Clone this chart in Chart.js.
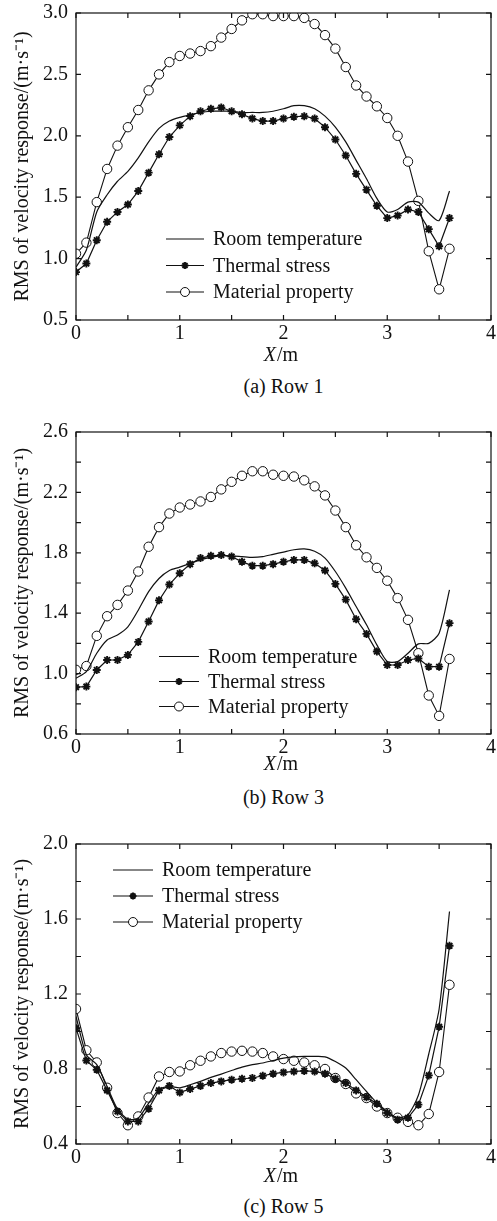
<!DOCTYPE html>
<html><head><meta charset="utf-8">
<script src="https://cdn.jsdelivr.net/npm/chart.js@4.4.1/dist/chart.umd.min.js"></script>
<style>
html,body{margin:0;padding:0;background:#fff;}
body{width:497px;height:1221px;position:relative;overflow:hidden;font-family:'Liberation Serif','Times New Roman',serif;color:#111;}
.pane{position:absolute;left:0;width:497px;}
.cap{position:absolute;left:76px;width:415px;text-align:center;font-size:20px;line-height:20px;color:#111;}
</style></head><body>
<div class="pane" style="top:0;height:372px"><canvas id="c1"></canvas></div>
<div class="cap" style="top:376px">(a) Row 1</div>
<div class="pane" style="top:400px;height:385px"><canvas id="c2"></canvas></div>
<div class="cap" style="top:787px">(b) Row 3</div>
<div class="pane" style="top:820px;height:372px"><canvas id="c3"></canvas></div>
<div class="cap" style="top:1196px">(c) Row 5</div>
<script>
// ---- data ----
const xPositions = [0.0,0.1,0.2,0.3,0.4,0.5,0.6,0.7,0.8,0.9,1.0,1.1,1.2,1.3,1.4,1.5,1.6,1.7,1.8,1.9,2.0,2.1,2.2,2.3,2.4,2.5,2.6,2.7,2.8,2.9,3.0,3.1,3.2,3.3,3.4,3.5,3.6];
const seriesNames = ['Room temperature','Thermal stress','Material property'];
const captions = ['(a) Row 1','(b) Row 3','(c) Row 5'];
const yTitle = 'RMS of velocity response/(m·s⁻¹)';
const xTitleMain = 'X';
const xTitleUnit = '/m';

const room1 = [0.93,1.07,1.38,1.52,1.63,1.71,1.82,1.95,2.06,2.12,2.15,2.17,2.19,2.20,2.20,2.20,2.19,2.19,2.19,2.20,2.22,2.245,2.245,2.22,2.16,2.07,1.95,1.80,1.65,1.49,1.38,1.40,1.46,1.46,1.37,1.31,1.55];
const thermal1 = [0.89,0.96,1.15,1.30,1.38,1.44,1.55,1.70,1.85,1.99,2.085,2.16,2.20,2.22,2.23,2.20,2.175,2.14,2.12,2.12,2.14,2.155,2.16,2.14,2.07,1.97,1.84,1.69,1.56,1.43,1.33,1.35,1.40,1.38,1.24,1.10,1.33];
const material1 = [1.04,1.13,1.46,1.73,1.92,2.07,2.21,2.37,2.50,2.60,2.65,2.67,2.69,2.73,2.80,2.87,2.94,2.99,2.99,2.975,2.975,2.975,2.96,2.91,2.82,2.71,2.56,2.41,2.32,2.24,2.145,2.00,1.79,1.47,1.06,0.75,1.08];

const room2 = [0.97,1.013,1.135,1.223,1.256,1.31,1.42,1.543,1.63,1.683,1.705,1.73,1.753,1.77,1.78,1.78,1.775,1.77,1.775,1.79,1.805,1.82,1.826,1.81,1.765,1.676,1.566,1.444,1.323,1.19,1.08,1.08,1.135,1.197,1.20,1.267,1.555];
const thermal2 = [0.91,0.914,1.024,1.09,1.09,1.124,1.21,1.345,1.485,1.59,1.665,1.725,1.765,1.78,1.785,1.775,1.74,1.715,1.715,1.725,1.74,1.753,1.753,1.73,1.683,1.594,1.49,1.36,1.263,1.146,1.057,1.057,1.09,1.10,1.046,1.046,1.334];
const material2 = [1.025,1.05,1.25,1.38,1.455,1.55,1.676,1.84,1.97,2.06,2.10,2.12,2.14,2.17,2.22,2.27,2.31,2.34,2.34,2.317,2.31,2.305,2.28,2.24,2.18,2.08,1.97,1.85,1.77,1.70,1.615,1.50,1.356,1.135,0.855,0.72,1.097];

const room3 = [1.08,0.876,0.823,0.707,0.587,0.533,0.538,0.618,0.69,0.707,0.70,0.716,0.734,0.755,0.773,0.792,0.81,0.823,0.832,0.845,0.858,0.865,0.867,0.867,0.865,0.84,0.805,0.743,0.68,0.62,0.574,0.54,0.556,0.66,0.88,1.12,1.64];
const thermal3 = [1.018,0.845,0.796,0.686,0.574,0.52,0.52,0.588,0.686,0.71,0.675,0.693,0.71,0.725,0.734,0.743,0.748,0.752,0.764,0.775,0.782,0.787,0.79,0.787,0.775,0.748,0.725,0.686,0.65,0.615,0.565,0.53,0.54,0.61,0.766,1.025,1.457];
const material3 = [1.12,0.90,0.835,0.70,0.565,0.50,0.547,0.648,0.76,0.784,0.787,0.82,0.844,0.867,0.885,0.893,0.897,0.893,0.885,0.867,0.853,0.844,0.835,0.82,0.80,0.752,0.72,0.67,0.645,0.60,0.565,0.54,0.518,0.50,0.56,0.784,1.249];

const xTickLabels = ['0','1','2','3','4'];
const yTickLabels1 = ['0.5','1.0','1.5','2.0','2.5','3.0'];
const yTickLabels2 = ['0.6','1.0','1.4','1.8','2.2','2.6'];
const yTickLabels3 = ['0.4','0.8','1.2','1.6','2.0'];

// ---- rendering ----
const FONT = "'Liberation Serif','Times New Roman',serif";
const INK = '#111';
Chart.defaults.font.family = FONT;
Chart.defaults.color = INK;

function pts(vals){ return vals.map((v,i)=>({x:xPositions[i], y:v})); }

function drawMarker(ctx, style, cx, cy, r){
  ctx.beginPath();
  if(style==='circle'){
    ctx.arc(cx,cy,r,0,Math.PI*2);
    ctx.fillStyle='#fff'; ctx.fill(); ctx.stroke();
  } else {
    const d = r*Math.SQRT1_2;
    ctx.moveTo(cx-r,cy); ctx.lineTo(cx+r,cy);
    ctx.moveTo(cx,cy-r); ctx.lineTo(cx,cy+r);
    ctx.moveTo(cx-d,cy-d); ctx.lineTo(cx+d,cy+d);
    ctx.moveTo(cx-d,cy+d); ctx.lineTo(cx+d,cy-d);
    ctx.stroke();
  }
}

const framePlugin = {
  id:'frame',
  afterDraw(chart, args, o){
    const ctx = chart.ctx, a = chart.chartArea, x = chart.scales.x, y = chart.scales.y;
    ctx.save();
    ctx.strokeStyle = INK; ctx.lineWidth = 1.2;
    ctx.strokeRect(a.left, a.top, a.right-a.left, a.bottom-a.top);
    const L = 5;
    ctx.beginPath();
    x.ticks.forEach(t=>{ const p = x.getPixelForValue(t.value);
      ctx.moveTo(p,a.bottom); ctx.lineTo(p,a.bottom-L); ctx.moveTo(p,a.top); ctx.lineTo(p,a.top+L); });
    y.ticks.forEach(t=>{ const p = y.getPixelForValue(t.value);
      ctx.moveTo(a.left,p); ctx.lineTo(a.left+L,p); ctx.moveTo(a.right,p); ctx.lineTo(a.right-L,p); });
    ctx.stroke();
    // x axis title: italic X + /m
    ctx.fillStyle = INK; ctx.textBaseline = 'middle';
    const fi = 'italic 20px ' + FONT, fn = '20px ' + FONT;
    ctx.font = fi; const w1 = ctx.measureText(xTitleMain).width;
    ctx.font = fn; const w2 = ctx.measureText(xTitleUnit).width;
    const cx = (a.left + a.right)/2 - 3, ty = a.bottom + o.xTitleOffset;
    const sx = cx - (w1+w2)/2;
    ctx.font = fi; ctx.textAlign = 'left'; ctx.fillText(xTitleMain, sx, ty);
    ctx.font = fn; ctx.fillText(xTitleUnit, sx + w1 + 1, ty);
    // legend
    const lg = o.legend;
    chart.data.datasets.forEach((ds,i)=>{
      const ly = a.top + lg.dy + i*lg.gap, lx = a.left + lg.dx;
      ctx.strokeStyle = INK; ctx.lineWidth = 1.2;
      ctx.beginPath(); ctx.moveTo(lx,ly); ctx.lineTo(lx+lg.len,ly); ctx.stroke();
      if(ds.pointRadius>0){ ctx.lineWidth = ds.pointBorderWidth; drawMarker(ctx, ds.pointStyle, lx+lg.len/2, ly, ds.pointStyle==='circle'?4.5:3.5); }
      ctx.fillStyle = INK; ctx.font = fn; ctx.textAlign='left'; ctx.textBaseline='middle';
      ctx.fillText(ds.label, lx+lg.len+9, ly+1);
    });
    ctx.restore();
  }
};

function makeChart(id, cfg){
  return new Chart(document.getElementById(id), {
    type:'line',
    data:{datasets:[
      {label:seriesNames[0], data:pts(cfg.room), borderColor:INK, borderWidth:1.2, pointRadius:0, tension:0.25},
      {label:seriesNames[1], data:pts(cfg.thermal), borderColor:INK, borderWidth:1.2, pointStyle:'star', pointRadius:4, pointBorderWidth:1.9, pointBorderColor:INK, pointBackgroundColor:INK, tension:0},
      {label:seriesNames[2], data:pts(cfg.material), borderColor:INK, borderWidth:1.1, pointStyle:'circle', pointRadius:4.7, pointBorderWidth:1, pointBorderColor:INK, pointBackgroundColor:'#fff', tension:0}
    ]},
    options:{
      responsive:true, maintainAspectRatio:false, animation:false, devicePixelRatio:1,
      layout:{padding:{top:cfg.padTop, right:6, left:0, bottom:0}},
      plugins:{legend:{display:false}, tooltip:{enabled:false},
        frame:{xTitleOffset:cfg.xTitleOffset, legend:cfg.legend}},
      scales:{
        x:{type:'linear', min:0, max:4,
          afterFit:s=>{ s.height = cfg.xAxisH; s.paddingLeft = 0; s.paddingRight = 0; },
          grid:{display:false, drawTicks:false}, border:{display:false},
          ticks:{stepSize:0.5, autoSkip:false, maxRotation:0, padding:2, color:INK, font:{size:20, family:FONT},
            callback:v=>{ const k = Math.round(v*2); return k%2===0 ? xTickLabels[k/2] : ''; }}},
        y:{type:'linear', min:cfg.ymin, max:cfg.ymax,
          afterFit:s=>{ s.width = 76; s.paddingTop = 0; s.paddingBottom = 0; },
          grid:{display:false, drawTicks:false}, border:{display:false},
          ticks:{stepSize:cfg.ystep, autoSkip:false, padding:8, color:INK, font:{size:20, family:FONT},
            callback:v=>{ const lbl = v.toFixed(1); return cfg.yLabels.includes(lbl) ? lbl : ''; }},
          title:{display:true, text:yTitle, color:INK, font:{size:20, family:FONT}, padding:{top:11, bottom:0}}}
      }
    },
    plugins:[framePlugin]
  });
}

makeChart('c1', {room:room1, thermal:thermal1, material:material1, ymin:0.5, ymax:3.0, ystep:0.5,
  yLabels:yTickLabels1, padTop:13, xAxisH:52, xTitleOffset:36,
  legend:{dx:90, dy:226, gap:26.5, len:38}});
makeChart('c2', {room:room2, thermal:thermal2, material:material2, ymin:0.6, ymax:2.6, ystep:0.2,
  yLabels:yTickLabels2, padTop:32, xAxisH:51, xTitleOffset:31,
  legend:{dx:83, dy:224.5, gap:25, len:40}});
makeChart('c3', {room:room3, thermal:thermal3, material:material3, ymin:0.4, ymax:2.0, ystep:0.2,
  yLabels:yTickLabels3, padTop:24, xAxisH:48, xTitleOffset:33,
  legend:{dx:37, dy:26, gap:26, len:40}});
</script>
</body></html>
